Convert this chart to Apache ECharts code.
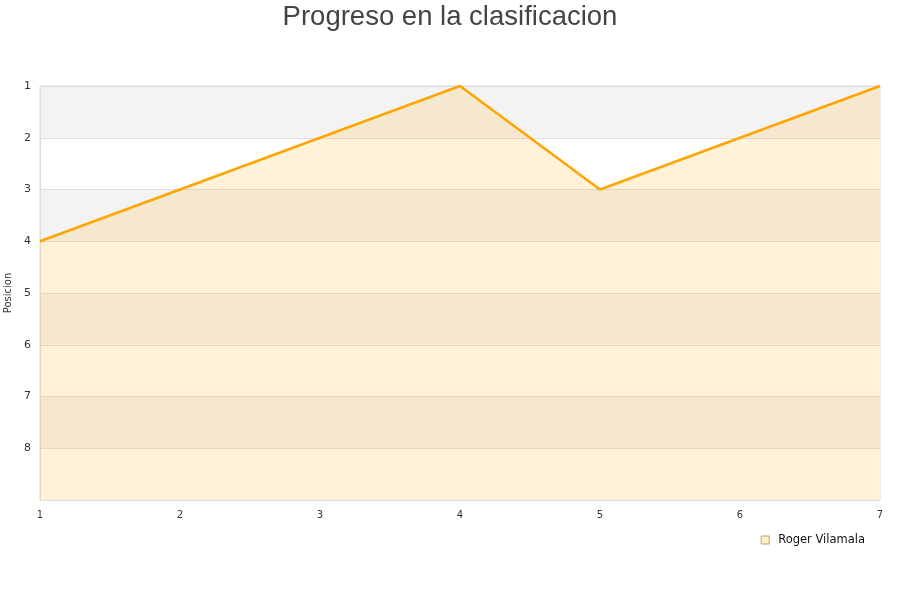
<!DOCTYPE html>
<html>
<head>
<meta charset="utf-8">
<script src="https://cdn.jsdelivr.net/npm/echarts@6/dist/echarts.min.js"></script>
<style>html,body{margin:0;padding:0;background:#fff}#c{width:900px;height:600px}</style>
</head>
<body>
<div id="c"></div>
<script>
var titleText = 'Progreso en la clasificacion';
var seriesName = 'Roger Vilamala';
var jornadas = [1, 2, 3, 4, 5, 6, 7];
var posiciones = [4, 3, 2, 1, 3, 2, 1];
var yAxisName = 'Posicion';

var chart = echarts.init(document.getElementById('c'));
chart.setOption({
  animation: false,
  textStyle: { fontFamily: 'DejaVu Sans' },
  title: {
    text: titleText, left: 'center', top: -2,
    textStyle: { fontFamily: 'Liberation Sans', fontSize: 27.5, fontWeight: 'normal', color: '#444' }
  },
  legend: {
    right: 30, top: 529, itemWidth: 8, itemHeight: 8, itemGap: 8,
    data: [{ name: seriesName, icon: 'rect', itemStyle: { color: '#ffeecc', borderColor: '#c8a070', borderWidth: 1 } }],
    textStyle: { fontSize: 11.5, color: '#111', padding: [0, 0, 0, 4] }
  },
  grid: { left: 40, right: 20, top: 86, bottom: 100, containLabel: false, outerBoundsMode: 'none',
          show: true, borderColor: '#dddddd', borderWidth: 1 },
  xAxis: {
    type: 'value', min: 1, max: 7, interval: 1,
    axisLine: { show: false }, axisTick: { show: false }, splitLine: { show: false },
    axisLabel: { fontSize: 10, color: '#333', margin: 10 }
  },
  yAxis: {
    type: 'value', inverse: true, min: 1, max: 9, interval: 1,
    name: yAxisName, nameLocation: 'middle', nameGap: 25,
    nameTextStyle: { fontSize: 10, color: '#333' },
    axisLine: { show: true, lineStyle: { color: '#dddddd' } }, axisTick: { show: false },
    axisLabel: { fontSize: 11, color: '#333', margin: 9,
      formatter: function (v) { return v === 9 ? '' : String(v); } },
    splitLine: { show: true, lineStyle: { color: '#dddddd', width: 1 } },
    splitArea: { show: true, areaStyle: { color: ['#f3f3f3', '#ffffff'] } }
  },
  series: [{
    name: seriesName, type: 'line',
    data: jornadas.map(function (j, i) { return [j, posiciones[i]]; }),
    showSymbol: false, symbol: 'none',
    lineStyle: { color: '#ffa500', width: 2.5 },
    itemStyle: { color: '#ffa500' },
    areaStyle: { color: 'rgba(255,180,40,0.25)', origin: 'end' }
  }]
});
</script>
</body>
</html>
